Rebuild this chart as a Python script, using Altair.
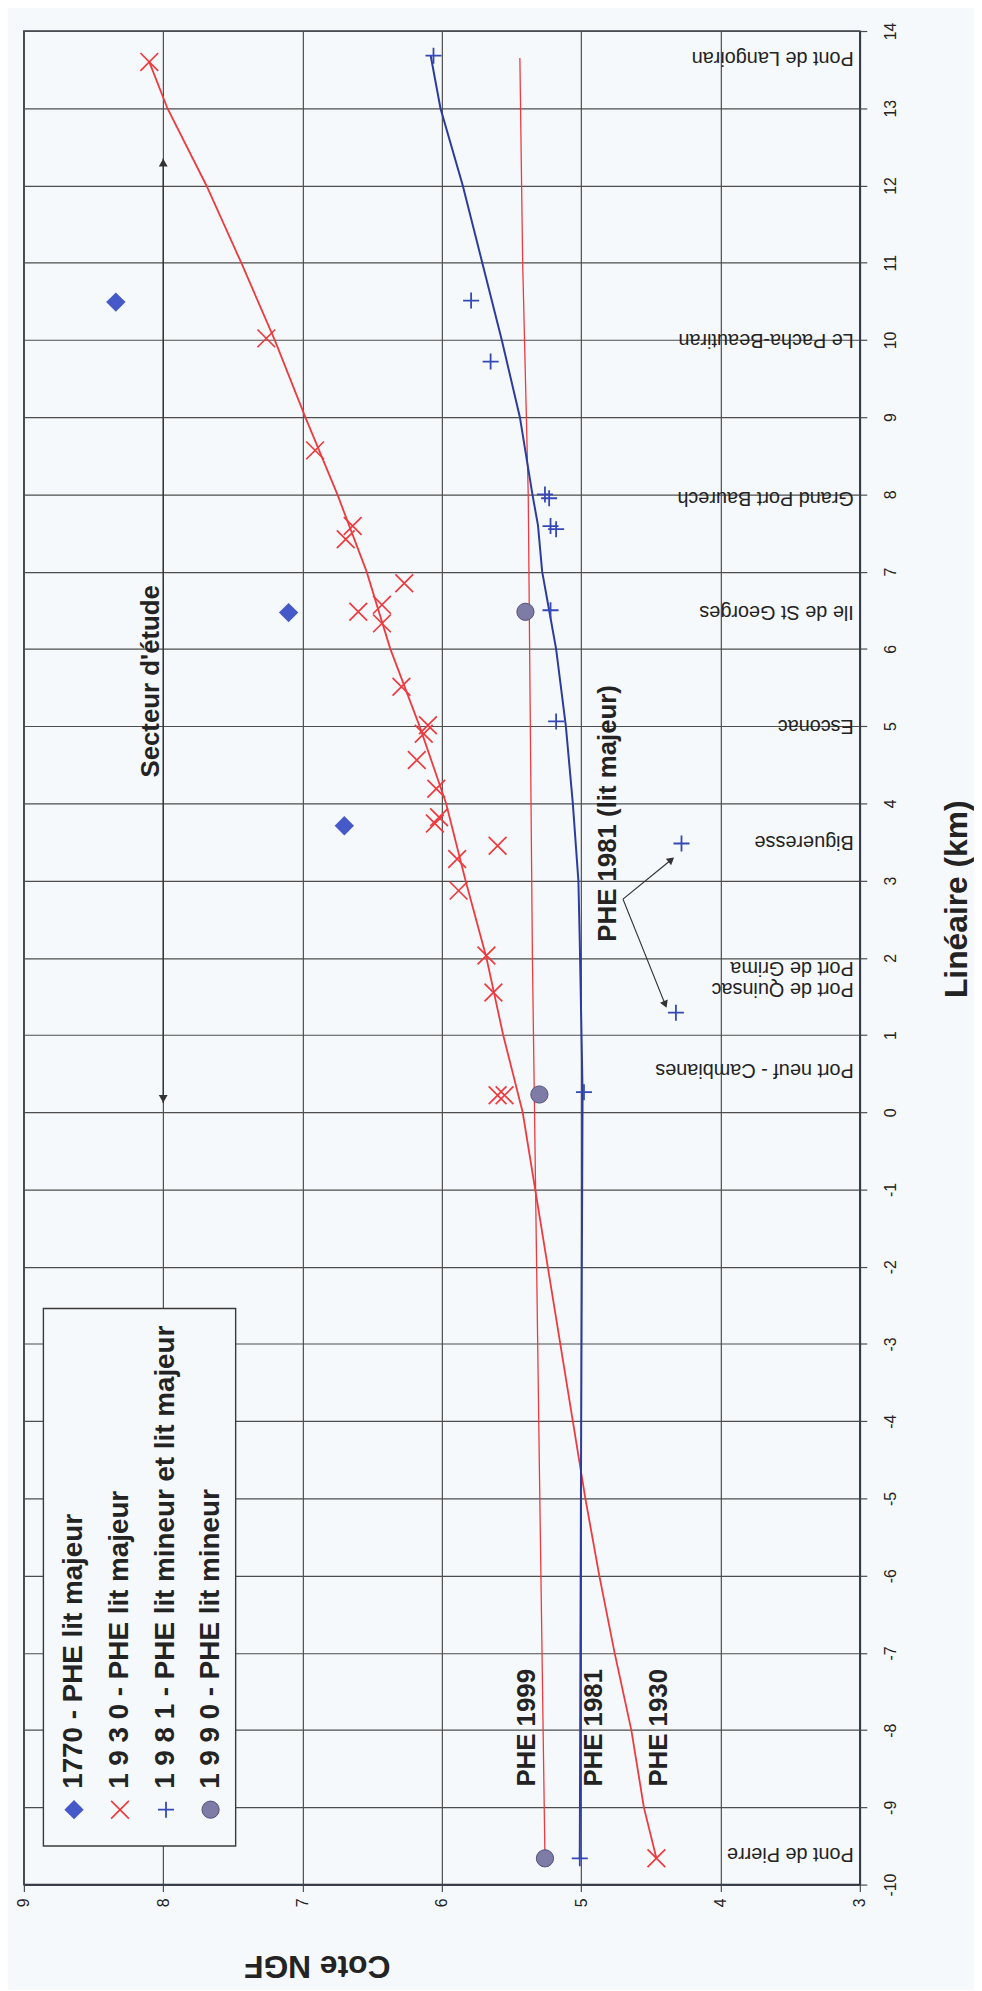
import math
import altair as alt
import pandas as pd

FONT = "Liberation Sans"
BG = "#f6f9fb"
RED = "#ee3a3f"
BLUE_LINE = "#2b3c9e"
BLUE_PLUS = "#3548b8"
BLUE_DIAMOND = "#4559c9"
GREY_CIRCLE = "#7c7ca6"
INK = "#232323"
GRID = "#4d4d4d"

W, H = 842, 1867

# ---------------- data (km = Linéaire, cote = Cote NGF) ----------------
km_1770 = [3.71, 6.47, 10.49]
cote_1770 = [6.70, 7.10, 8.34]

km_1930 = [-9.66, 0.22, 0.22, 1.55, 2.03, 2.87, 3.28, 3.45, 3.74, 3.82, 4.19, 4.56,
           4.90, 5.01, 5.51, 6.33, 6.48, 6.57, 6.85, 7.42, 7.59, 8.57, 10.02, 13.60]
cote_1930 = [4.46, 5.60, 5.55, 5.63, 5.68, 5.88, 5.89, 5.60, 6.05, 6.02, 6.04, 6.18,
             6.13, 6.10, 6.29, 6.43, 6.60, 6.43, 6.27, 6.69, 6.64, 6.91, 7.26, 8.10]

km_1981 = [-9.66, 0.26, 1.29, 3.48, 5.06, 6.50, 7.55, 7.59, 7.95, 8.00, 9.72, 10.51, 13.68]
cote_1981 = [5.01, 4.98, 4.32, 4.28, 5.18, 5.22, 5.18, 5.22, 5.23, 5.26, 5.65, 5.79, 6.06]

km_1990 = [-9.66, 0.23, 6.48]
cote_1990 = [5.26, 5.30, 5.40]

# PHE lines
line1930_km = [-9.66, -9, -8, -7, -6, -5, -4, -3, -2, -1, 0, 1, 2, 3, 4, 5, 6, 7, 8, 9,
               10, 11, 12, 13, 13.6]
line1930_cote = [4.46, 4.55, 4.64, 4.76, 4.87, 4.97, 5.06, 5.15, 5.24, 5.33, 5.42, 5.56,
                 5.68, 5.83, 5.97, 6.16, 6.37, 6.54, 6.75, 6.98, 7.20, 7.44, 7.69, 7.97, 8.10]

line1981_km = [-9.66, -4, 0.26, 2.2, 3, 4, 5, 6, 6.5, 7, 7.6, 8, 9, 10, 11, 12, 13, 13.68]
line1981_cote = [5.01, 5.00, 4.99, 5.01, 5.02, 5.06, 5.11, 5.18, 5.23, 5.28, 5.31, 5.35,
                 5.44, 5.57, 5.71, 5.85, 6.01, 6.08]

line1999_km = [-9.66, -4.6, 2, 8, 11, 13.65]
line1999_cote = [5.26, 5.30, 5.35, 5.38, 5.42, 5.44]

# place names (upside-down labels along the right edge)
place_names = ["Pont de Pierre", "Port neuf - Cambianes", "Port de Quinsac", "Port de Grima",
               "Bigueresse", "Esconac", "Ile de St Georges", "Grand Port Baurech",
               "Le Pacha-Beautiran", "Pont de Langoiran"]
place_km = [-9.6, 0.55, 1.60, 1.87, 3.5, 5.0, 6.48, 7.95, 10.0, 13.65]
place_cote = 3.043

# annotations
ann_text = ["PHE 1999", "PHE 1981", "PHE 1930", "Secteur d'étude", "PHE 1981 (lit majeur)"]
ann_km = [-7.97, -7.97, -7.97, 5.58, 3.87]
ann_cote = [5.39, 4.91, 4.44, 8.09, 4.81]

# "Secteur d'étude" double arrow
sect_cote = 8.0
sect_km = [0.12, 12.35]

# PHE 1981 (lit majeur) arrows
arr_start = (2.76, 4.70)
arr_tips_km = [3.26, 1.41]
arr_tips_cote = [4.36, 4.40]

# legend
leg_labels = ["1770 - PHE lit majeur", "1 9 3 0 - PHE lit majeur",
              "1 9 8 1 - PHE lit mineur et lit majeur", "1 9 9 0 - PHE lit mineur"]
leg_cote = [8.64, 8.31, 7.98, 7.66]
leg_sym_km = -9.03
leg_txt_km = -8.76
leg_box = (8.86, 7.48, -2.54, -9.50)

cote_ticks = [3, 4, 5, 6, 7, 8, 9]
km_ticks = list(range(-10, 15))

# ---------------- encodings ----------------
x_axis = alt.Axis(orient="bottom", values=cote_ticks, labelExpr="'' + datum.value",
                  labelAngle=270, labelAlign="center", labelBaseline="middle", labelPadding=11,
                  labelFontSize=16, labelFont=FONT, labelColor=INK, labelFlush=False,
                  labelOverlap=False, tickSize=7, tickColor=GRID, tickWidth=1.2,
                  grid=True, gridColor=GRID, gridWidth=1.2, gridOpacity=1,
                  domainColor="#333a48", domainWidth=1.6,
                  title="Cote NGF", titleFont=FONT, titleFontSize=32, titleFontWeight="bold",
                  titleColor=INK, titleAngle=180, titleX=295, titleY=81,
                  titleAlign="center", titleBaseline="middle")
y_axis = alt.Axis(orient="right", values=km_ticks, labelExpr="'' + datum.value",
                  labelAngle=270, labelAlign="center", labelBaseline="middle", labelPadding=24,
                  labelFontSize=16, labelFont=FONT, labelColor=INK, labelFlush=False,
                  labelOverlap=False, tickSize=7, tickColor=GRID, tickWidth=1.2,
                  grid=True, gridColor=GRID, gridWidth=1.2, gridOpacity=1,
                  domainColor="#333a48", domainWidth=1.6,
                  title="Linéaire (km)", titleFont=FONT, titleFontSize=32,
                  titleFontWeight="bold", titleColor=INK, titleAngle=270,
                  titleX=97, titleY=874, titleAlign="center", titleBaseline="middle")

XS = alt.Scale(domain=[3, 9], reverse=True, nice=False, zero=False)
YS = alt.Scale(domain=[-10, 14], nice=False, zero=False)
X = alt.X("cote:Q", scale=XS, axis=x_axis)
Y = alt.Y("km:Q", scale=YS, axis=y_axis)

PX_COTE = W / 6.0
PX_KM = H / 24.0


def head_angle(k0, c0, k1, c1):
    dx = (c0 - c1) * PX_COTE
    dy = -(k1 - k0) * PX_KM
    return math.degrees(math.atan2(dx, -dy)) % 360


# ---------------- layers ----------------
layers = []

# legend box
box = pd.DataFrame({"cote": [leg_box[0]], "cote2": [leg_box[1]],
                    "km": [leg_box[2]], "km2": [leg_box[3]]})
layers.append(alt.Chart(box).mark_rect(fill=BG, stroke="#3a3a3a", strokeWidth=1.4).encode(
    x=X, x2="cote2:Q", y=Y, y2="km2:Q"))


def line_layer(kms, cotes, color, width):
    df = pd.DataFrame({"km": kms, "cote": cotes})
    return alt.Chart(df).mark_line(color=color, strokeWidth=width).encode(
        x=X, y=Y, order=alt.Order("km:Q"))


layers.append(line_layer(line1999_km, line1999_cote, RED, 1.3))
layers.append(line_layer(line1930_km, line1930_cote, RED, 1.8))
layers.append(line_layer(line1981_km, line1981_cote, BLUE_LINE, 2.0))

# Secteur d'étude double arrow
sect = pd.DataFrame({"cote": [sect_cote], "km": [sect_km[0]], "km2": [sect_km[1]]})
layers.append(alt.Chart(sect).mark_rule(color="#333", strokeWidth=1.3).encode(
    x=X, y=Y, y2="km2:Q"))
sect_heads = pd.DataFrame({"cote": [sect_cote, sect_cote],
                           "km": [sect_km[1] - 0.07, sect_km[0] + 0.07],
                           "ang": [0, 180]})
layers.append(alt.Chart(sect_heads).mark_point(shape="triangle", filled=True, color="#333",
                                               opacity=1, size=80).encode(
    x=X, y=Y, angle=alt.Angle("ang:Q", scale=None)))

# PHE 1981 (lit majeur) arrows
arr = pd.DataFrame({"cote": [arr_start[1]] * 2, "km": [arr_start[0]] * 2,
                    "cote2": arr_tips_cote, "km2": arr_tips_km})
layers.append(alt.Chart(arr).mark_rule(color="#333", strokeWidth=1.2).encode(
    x=X, y=Y, x2="cote2:Q", y2="km2:Q"))
heads = pd.DataFrame({"cote": arr_tips_cote, "km": arr_tips_km,
                      "ang": [head_angle(arr_start[0], arr_start[1], k, c)
                              for k, c in zip(arr_tips_km, arr_tips_cote)]})
layers.append(alt.Chart(heads).mark_point(shape="triangle", filled=True, color="#333",
                                          opacity=1, size=70).encode(
    x=X, y=Y, angle=alt.Angle("ang:Q", scale=None)))

X_PATH = "M-1,-1L1,1M-1,1L1,-1"
PLUS_PATH = "M-1,0L1,0M0,-1L0,1"


def diamonds(kms, cotes):
    return alt.Chart(pd.DataFrame({"km": kms, "cote": cotes})).mark_point(
        shape="diamond", filled=True, color=BLUE_DIAMOND, opacity=1, size=380).encode(x=X, y=Y)


def crosses(kms, cotes):
    return alt.Chart(pd.DataFrame({"km": kms, "cote": cotes})).mark_point(
        shape=X_PATH, filled=False, color=RED, opacity=1, strokeWidth=1.7, size=320).encode(x=X, y=Y)


def pluses(kms, cotes):
    return alt.Chart(pd.DataFrame({"km": kms, "cote": cotes})).mark_point(
        shape=PLUS_PATH, filled=False, color=BLUE_PLUS, opacity=1, strokeWidth=1.8, size=260).encode(x=X, y=Y)


def circles(kms, cotes):
    return alt.Chart(pd.DataFrame({"km": kms, "cote": cotes})).mark_point(
        shape="circle", filled=True, color=GREY_CIRCLE, stroke="#50507a", strokeWidth=1,
        opacity=1, size=300).encode(x=X, y=Y)


layers.append(diamonds(km_1770, cote_1770))
layers.append(crosses(km_1930, cote_1930))
layers.append(pluses(km_1981, cote_1981))
layers.append(circles(km_1990, cote_1990))

# legend symbols
layers.append(diamonds([leg_sym_km], [leg_cote[0]]))
layers.append(crosses([leg_sym_km], [leg_cote[1]]))
layers.append(pluses([leg_sym_km], [leg_cote[2]]))
layers.append(circles([leg_sym_km], [leg_cote[3]]))

# legend texts
leg_df = pd.DataFrame({"km": [leg_txt_km] * 4, "cote": leg_cote, "t": leg_labels})
layers.append(alt.Chart(leg_df).mark_text(angle=270, align="left", baseline="middle",
                                          font=FONT, fontSize=28, fontWeight="bold",
                                          color=INK).encode(x=X, y=Y, text="t:N"))

# annotations
ann_df = pd.DataFrame({"km": ann_km, "cote": ann_cote, "t": ann_text})
layers.append(alt.Chart(ann_df).mark_text(angle=270, align="center", baseline="middle",
                                          font=FONT, fontSize=26, fontWeight="bold",
                                          color=INK).encode(x=X, y=Y, text="t:N"))

# place names
pl_df = pd.DataFrame({"km": place_km, "cote": [place_cote] * len(place_km), "t": place_names})
layers.append(alt.Chart(pl_df).mark_text(angle=180, align="left", baseline="middle",
                                         font=FONT, fontSize=20, color=INK).encode(
    x=X, y=Y, text="t:N"))

chart = alt.layer(*layers).properties(
    width=W, height=H,
    padding={"left": 8, "top": 7, "right": 2, "bottom": 2},
    background=BG,
).configure_view(stroke="#333a48", strokeWidth=1.6)

chart.save("out.html", embed_options={"renderer": "svg", "actions": False})
